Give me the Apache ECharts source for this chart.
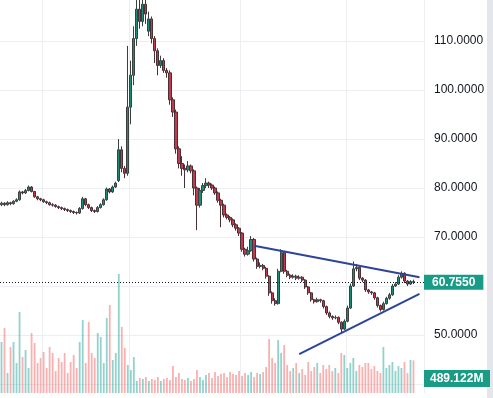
<!DOCTYPE html>
<html><head><meta charset="utf-8">
<script src="https://cdn.jsdelivr.net/npm/echarts@6/dist/echarts.min.js"></script>
<style>html,body{margin:0;padding:0;background:#fff;overflow:hidden;width:493px;height:398px;position:relative}#c{position:absolute;left:0;top:-8px;width:493px;height:406px}</style>
</head><body><div id="c"></div>
<script>
// [open, close, low, high]
const candles = [
[76.6,76.9,76.3,77.2],[76.9,76.6,76.3,77.1],[76.6,77.0,76.4,77.3],[77.0,76.8,76.5,77.2],[76.8,77.3,76.6,77.5],
[77.3,77.6,77.1,77.9],[77.6,79.2,77.4,79.5],[79.2,79.0,78.7,79.4],[79.0,79.5,78.8,79.8],[79.5,80.2,79.3,80.5],
[80.2,79.3,79.1,80.4],[79.3,78.2,78.0,79.4],[78.2,77.8,77.5,78.4],[77.8,77.6,77.3,78.0],[77.6,77.2,77.0,77.8],
[77.2,77.0,76.7,77.4],[77.0,76.6,76.4,77.2],[76.6,76.5,76.2,76.9],[76.5,76.2,76.0,76.7],[76.2,76.0,75.7,76.4],
[76.0,75.8,75.5,76.2],[75.8,75.6,75.3,76.0],[75.6,75.4,75.1,75.8],[75.4,75.2,74.9,75.6],[75.2,75.0,74.7,75.4],
[75.0,74.9,74.6,75.2],[74.9,75.8,74.7,76.1],[75.8,77.8,75.6,78.2],[77.8,76.6,76.3,78.0],[76.6,76.0,75.7,76.8],
[76.0,75.4,75.1,76.2],[75.4,75.2,74.9,75.6],[75.2,76.0,75.0,76.3],[76.0,76.6,75.8,76.9],[76.6,77.6,76.4,77.9],
[77.6,79.8,77.4,80.1],[79.8,79.2,78.9,80.0],[79.2,80.2,79.0,80.5],[80.2,81.0,80.0,81.3],[81.5,87.8,81.2,90.0],
[87.8,84.0,83.2,88.5],[84.0,83.0,82.0,84.5],[83.0,96.5,82.5,109.0],[96.5,103.0,93.0,106.0],[103.0,110.5,101.0,113.0],
[110.5,116.5,109.0,119.5],[116.5,114.0,112.5,119.0],[114.0,117.5,113.0,119.5],[117.5,115.5,113.5,118.5],[112.0,114.5,111.0,116.0],
[114.5,110.5,109.5,115.0],[110.5,108.0,105.5,111.0],[108.0,105.0,103.0,108.5],[105.0,106.0,104.5,107.0],[106.0,104.0,103.5,106.5],
[104.0,103.5,102.5,104.5],[103.5,98.0,97.0,104.0],[98.0,95.5,94.5,98.5],[95.5,88.0,87.0,96.0],[88.0,85.0,84.0,88.5],
[85.0,84.0,82.5,86.5],[84.0,83.7,80.0,84.8],[83.7,84.5,83.2,85.5],[84.5,83.5,83.0,84.8],[83.5,80.0,78.5,83.8],
[80.0,76.5,71.4,80.3],[76.5,79.5,76.0,80.0],[79.5,80.5,79.0,81.0],[80.5,81.0,80.0,82.0],[81.0,80.6,80.0,81.3],
[80.6,80.0,79.6,80.9],[80.0,79.0,78.6,80.3],[79.0,77.5,77.0,79.3],[77.5,76.5,72.0,77.8],[76.5,74.5,74.0,76.8],
[74.5,74.0,73.6,74.8],[74.0,73.5,73.0,74.3],[73.5,72.5,72.0,73.8],[72.5,71.8,71.3,72.8],[71.8,70.8,70.2,72.0],
[70.8,67.5,67.0,71.0],[67.5,66.5,66.0,67.8],[66.5,67.2,66.2,68.0],[67.2,69.5,67.0,70.2],[69.5,65.5,65.0,69.8],
[65.5,64.0,63.5,65.8],[64.0,64.2,63.6,64.8],[64.2,63.6,63.2,64.5],[63.6,62.0,61.5,63.9],[62.0,58.6,58.0,62.2],
[58.6,57.0,56.4,58.9],[57.0,56.4,56.0,57.5],[56.4,63.0,56.2,63.5],[63.0,66.8,62.8,67.5],[66.8,63.0,62.5,67.0],
[63.0,62.2,61.8,63.3],[62.2,61.8,61.4,62.5],[61.8,62.0,61.5,62.4],[62.0,61.6,61.2,62.3],[61.6,61.8,61.3,62.2],
[61.8,61.2,60.8,62.0],[61.2,59.8,59.4,61.4],[59.8,58.6,58.2,60.0],[58.6,57.2,56.8,58.8],[57.2,56.8,56.4,57.4],
[56.8,57.2,56.6,57.6],[57.2,57.0,56.6,57.4],[57.0,55.8,55.4,57.2],[55.8,54.5,54.1,56.0],[54.5,53.8,53.4,54.8],
[53.8,53.5,53.1,54.0],[53.5,53.6,53.2,54.0],[53.6,52.6,52.2,53.8],[52.6,51.2,50.5,52.8],[51.2,52.8,51.0,53.2],
[52.8,55.5,52.6,56.0],[55.5,60.0,55.3,60.5],[60.0,63.5,59.8,65.0],[63.5,63.8,63.0,64.5],[63.8,61.6,61.2,64.0],
[61.6,61.2,60.8,61.8],[61.2,59.2,58.8,61.4],[59.2,58.8,58.4,59.4],[58.8,58.6,58.2,59.0],[58.6,57.6,57.2,58.8],
[57.6,56.0,55.6,57.8],[56.0,55.2,54.8,56.2],[55.2,56.4,55.0,56.8],[56.4,57.5,56.2,57.8],[57.5,58.2,57.2,58.6],
[58.2,60.0,58.0,60.4],[60.0,60.4,59.8,60.8],[60.4,61.8,60.2,62.2],[61.8,62.6,61.5,63.0],[62.6,61.0,60.6,62.8],
[61.0,60.4,60.0,61.2],[60.4,60.9,60.2,61.2],[60.9,60.755,60.4,61.3]
];
// volume in millions
const volumes = [
765,975,300,690,765,450,1215,540,645,375,
900,750,450,525,615,375,690,600,330,525,
465,600,300,465,570,375,765,1095,450,1065,
600,525,900,840,450,1125,1320,495,600,1785,
990,675,420,345,540,180,225,210,240,180,
210,195,240,180,210,225,195,405,240,300,
210,195,225,180,210,345,240,195,270,300,
225,315,255,285,300,240,315,285,270,330,
255,300,270,315,240,300,285,315,390,810,
525,450,795,600,720,420,330,375,450,300,
360,270,465,330,390,450,300,420,360,420,
330,375,300,600,570,375,450,525,330,420,
390,450,450,360,405,330,300,690,375,420,
465,330,405,375,465,300,495,489.122
];
const lastPrice = 60.755;
const lastVolumeLabel = '489.122M';
const priceTicks = {min: 40, max: 120, step: 10};
const volumeMax = 1785;
const upperTrend = [[84, 68.2], [139, 61.8]];
const lowerTrend = [[99, 46.1], [139, 58.4]];
const gridLineIdx = [14, 43, 80, 115];
const padCount = 3;

const categories = [];
for (let i = 0; i < candles.length + padCount; i++) categories.push(String(i + 1));

const UP = '#1e8a78', DOWN = '#c23a4c';
const volData = volumes.map((v, i) => ({
  value: v,
  itemStyle: { color: candles[i][1] >= candles[i][0] ? 'rgba(38,166,154,0.5)' : 'rgba(239,83,80,0.45)' }
}));

const FONT = 'Liberation Sans';
const chart = echarts.init(document.getElementById('c'), null, {renderer: 'canvas'});
const gridRight = 69;
const splitX = { show: true, interval: (idx) => gridLineIdx.includes(idx), lineStyle: { color: '#eceef2', width: 1 } };

chart.setOption({
  animation: false,
  backgroundColor: '#ffffff',
  grid: [
    { left: 0, right: gridRight, top: 0, height: 392 },
    { left: 0, right: gridRight, top: 282, height: 119 }
  ],
  xAxis: [
    { type: 'category', gridIndex: 0, data: categories, boundaryGap: true,
      axisLine: {show: false}, axisTick: {show: false}, axisLabel: {show: false}, splitLine: splitX },
    { type: 'category', gridIndex: 1, data: categories, boundaryGap: true,
      axisLine: {show: false}, axisTick: {show: false}, axisLabel: {show: false}, splitLine: splitX }
  ],
  yAxis: [
    { type: 'value', gridIndex: 0, position: 'right', min: priceTicks.min, max: priceTicks.max, interval: priceTicks.step,
      axisLine: {show: false}, axisTick: {show: false},
      axisLabel: { margin: 10, color: '#131722', fontSize: 12, fontFamily: FONT,
        formatter: v => v >= priceTicks.max ? '' : v.toFixed(4) },
      splitLine: { lineStyle: { color: '#eceef2', width: 1 } } },
    { type: 'value', gridIndex: 1, min: 0, max: volumeMax, show: false, splitLine: {show: false} }
  ],
  graphic: [
    { type: 'rect', right: 0, top: 0, z: 1, shape: { width: 6, height: 406 }, style: { fill: '#e4e6eb' } },
    { type: 'rect', left: 424, top: 378, z: 100, shape: { width: 66, height: 17 }, style: { fill: '#1a9b85' } },
    { type: 'text', left: 430, top: 381, z: 101, style: { text: lastVolumeLabel, fill: '#ffffff', font: 'bold 12px "Liberation Sans"' } }
  ],
  series: [
    { type: 'bar', xAxisIndex: 1, yAxisIndex: 1, data: volData, barWidth: '60%', z: 1, silent: true },
    { type: 'candlestick', xAxisIndex: 0, yAxisIndex: 0, data: candles, barWidth: '90%', z: 3,
      itemStyle: { color: UP, color0: DOWN, borderColor: '#3a4240', borderColor0: '#4a3035', borderWidth: 1 },
      markLine: { symbol: 'none', silent: true, animation: false,
        data: [{ yAxis: lastPrice }],
        lineStyle: { color: '#131722', type: [1, 2], width: 1 },
        label: { position: 'end', distance: 0, formatter: lastPrice.toFixed(4), backgroundColor: '#1a9b85',
          color: '#ffffff', fontSize: 12, fontWeight: 'bold', fontFamily: FONT, padding: [2, 8, 1, 8], lineHeight: 12 } } },
    { type: 'line', xAxisIndex: 0, yAxisIndex: 0, data: upperTrend, symbol: 'none', z: 5,
      lineStyle: { color: '#2c4596', width: 2 } },
    { type: 'line', xAxisIndex: 0, yAxisIndex: 0, data: lowerTrend, symbol: 'none', z: 5,
      lineStyle: { color: '#2c4596', width: 2 } }
  ]
});
</script>
</body></html>
